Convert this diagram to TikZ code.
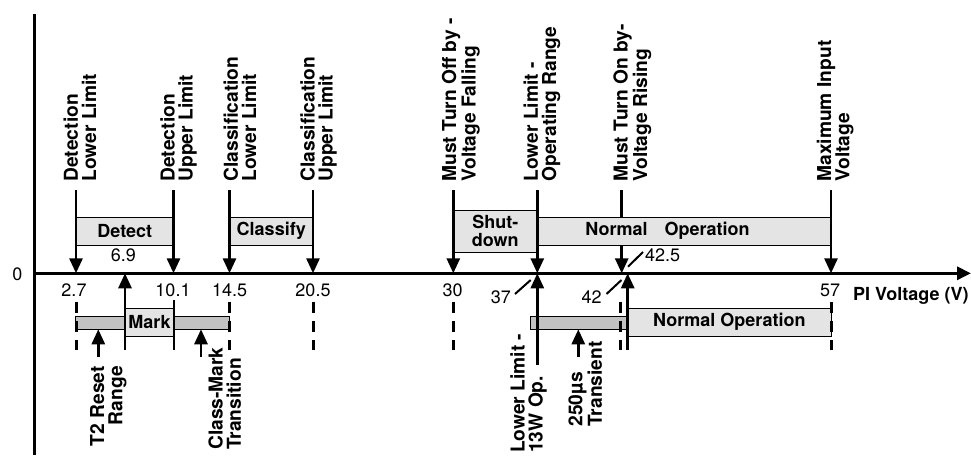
\documentclass[tikz,border=0pt]{standalone}
\usepackage{fontspec}
\setmainfont{TeX Gyre Heros}
\usetikzlibrary{arrows.meta}
\definecolor{lightfill}{RGB}{228,228,228}
\definecolor{darkfill}{RGB}{194,194,194}
\begin{document}
\begin{tikzpicture}[x=1pt,y=-1pt,
  lab/.style={font=\fontsize{19.2}{18.2}\selectfont\bfseries, rotate=90, anchor=north west, align=left, inner sep=0pt},
  labr/.style={lab, anchor=north east, align=right},
  num/.style={font=\fontsize{18}{18}\selectfont, inner sep=0pt, anchor=base},
  lbox/.style={draw, line width=0.9pt, fill=lightfill, inner sep=0pt, font=\fontsize{18}{18.5}\selectfont\bfseries, align=center},
  dbox/.style={draw, line width=0.9pt, fill=darkfill, inner sep=0pt},
  arr/.style={line width=2.8pt, -{Triangle[length=15pt,width=13pt]}},
  dsh/.style={line width=3pt, dash pattern=on 11.3pt off 8pt},
  sol/.style={line width=2.8pt},
  slash/.style={line width=2pt},
  axis/.style={line width=3pt}
]
\useasboundingbox (0,0) rectangle (971,455);

% axes
\coordinate (ytop) at (34,14);
\coordinate (ybot) at (34,455);
\coordinate (xl) at (34,273.3);
\coordinate (xr) at (971,273.3);
\draw[axis] (ytop) -- (ybot);
\draw[axis, -{Triangle[length=14pt,width=13pt]}] (xl) -- (xr);

% tick coordinates
\foreach \n/\x in {d27/76, d101/173.5, c145/229.5, c205/313, s30/453.3, l37/537.3, t42/621.7, m57/831}{
  \coordinate (\n-top) at (\x,190);
  \coordinate (\n-ax) at (\x,273.3);
}

% arrow behind the normal operation box
\draw[arr] (t42-top) -- (t42-ax);

% top boxes
\node[lbox, minimum width=97.5pt, minimum height=28pt] (detect) at (124.75,231) {Detect};
\node[lbox, minimum width=83.5pt, minimum height=28pt] (classify) at (271.25,231) {Classify};
\node[lbox, minimum width=84pt, minimum height=42pt] (shutdown) at (495.3,231) {Shut-\\down};
\node[lbox, minimum width=293.7pt, minimum height=28pt] (normal) at (684.15,231) {};
\node[font=\fontsize{18}{18.5}\selectfont\bfseries, inner sep=0pt] (normaltxt) at (667.5,231) {Normal\hspace{17pt}Operation};

% top arrows
\foreach \n in {d27, d101, c145, c205, s30, l37, m57}{
  \draw[arr] (\n-top) -- (\n-ax);
}

% top labels
\node[lab] (lab1) at (63.3,181.7) {Detection\\Lower Limit};
\node[lab] (lab2) at (160,181.7) {Detection\\Upper Limit};
\node[lab] (lab3) at (223.3,181.7) {Classification\\Lower Limit};
\node[lab] (lab4) at (300,181.7) {Classification\\Upper Limit};
\node[lab] (lab5) at (441.7,181.7) {Must Turn Off by -\\Voltage Falling};
\node[lab] (lab6) at (523.3,181.7) {Lower Limit -\\Operating Range};
\node[lab] (lab7) at (613.3,181.7) {Must Turn On by-\\Voltage Rising};
\node[lab] (lab8) at (816.7,181.7) {Maximum Input\\Voltage};

% lower bars and boxes
\node[dbox, minimum width=153.8pt, minimum height=13.3pt] (markbar) at (152.6,322.65) {};
\node[dbox, minimum width=97pt, minimum height=13.3pt] (transbar) at (579.2,322.65) {};
\node[lbox, minimum width=49pt, minimum height=27.7pt] (mark) at (149.5,322.15) {Mark};
\node[lbox, minimum width=203.3pt, minimum height=27.7pt] (normal2) at (729.35,322.15) {Normal Operation};

% lower dashed / solid lines
\foreach \n/\x in {q27/76, q145/229.5, q205/313, q30/453.3, q42/620, q57/831}{
  \coordinate (\n-a) at (\x,301.5);
  \coordinate (\n-b) at (\x,350);
  \draw[dsh] (\n-a) -- (\n-b);
}
\coordinate (q101a) at (174,300);
\coordinate (q101b) at (174,350);
\draw[sol] (q101a) -- (q101b);

% up arrows to the axis
\coordinate (u69b) at (125,350);
\coordinate (u69t) at (125,273.3);
\draw[arr] (u69b) -- (u69t);
\coordinate (u37b) at (537.3,365);
\coordinate (u37t) at (537.3,273.3);
\draw[arr] (u37b) -- (u37t);
\coordinate (u425b) at (627.7,350);
\coordinate (u425t) at (627.7,273.3);
\draw[arr] (u425b) -- (u425t);

% up arrows to bars
\coordinate (t2b) at (98.3,357);
\coordinate (t2t) at (98.3,329.3);
\draw[arr] (t2b) -- (t2t);
\coordinate (cmb) at (201,357);
\coordinate (cmt) at (201,329.3);
\draw[arr] (cmb) -- (cmt);
\coordinate (trb) at (578.3,357);
\coordinate (trt) at (578.3,329.3);
\draw[arr] (trb) -- (trt);

% lower labels
\node[labr] (lab9) at (90,366) {T2 Reset\\Range};
\node[lab] (lab10) at (208.3,450) {Class-Mark\\Transition};
\node[lab] (lab11) at (510,453) {Lower Limit -\\13W Op.};
\node[lab] (lab12) at (568.3,426.7) {250µs\\Transient};

% numbers
\node[num] (n0) at (17.5,280) {0};
\node[num] (n27) at (74,296.7) {2.7};
\node[num] (n69) at (123.3,261.7) {6.9};
\node[num] (n101) at (173,296.7) {10.1};
\node[num] (n145) at (229.7,296.7) {14.5};
\node[num] (n205) at (313,296.7) {20.5};
\node[num] (n30) at (452.7,296.7) {30};
\node[num] (n37) at (500.8,303.3) {37};
\node[num] (n42) at (591.7,303.3) {42};
\node[num, anchor=base west] (n425) at (645,261.7) {42.5};
\node[num] (n57) at (830,296.7) {57};
\node[font=\fontsize{18}{18.5}\selectfont\bfseries, inner sep=0pt, anchor=base west] (xlabel) at (853,300) {PI Voltage (V)};

% slashes
\coordinate (s37a) at (515,294);
\coordinate (s37b) at (530.7,280);
\draw[slash] (s37a) -- (s37b);
\coordinate (s42a) at (606.5,294);
\coordinate (s42b) at (621.5,280);
\draw[slash] (s42a) -- (s42b);
\coordinate (s425a) at (628,266.7);
\coordinate (s425b) at (643,252);
\draw[slash] (s425a) -- (s425b);
\end{tikzpicture}
\end{document}
